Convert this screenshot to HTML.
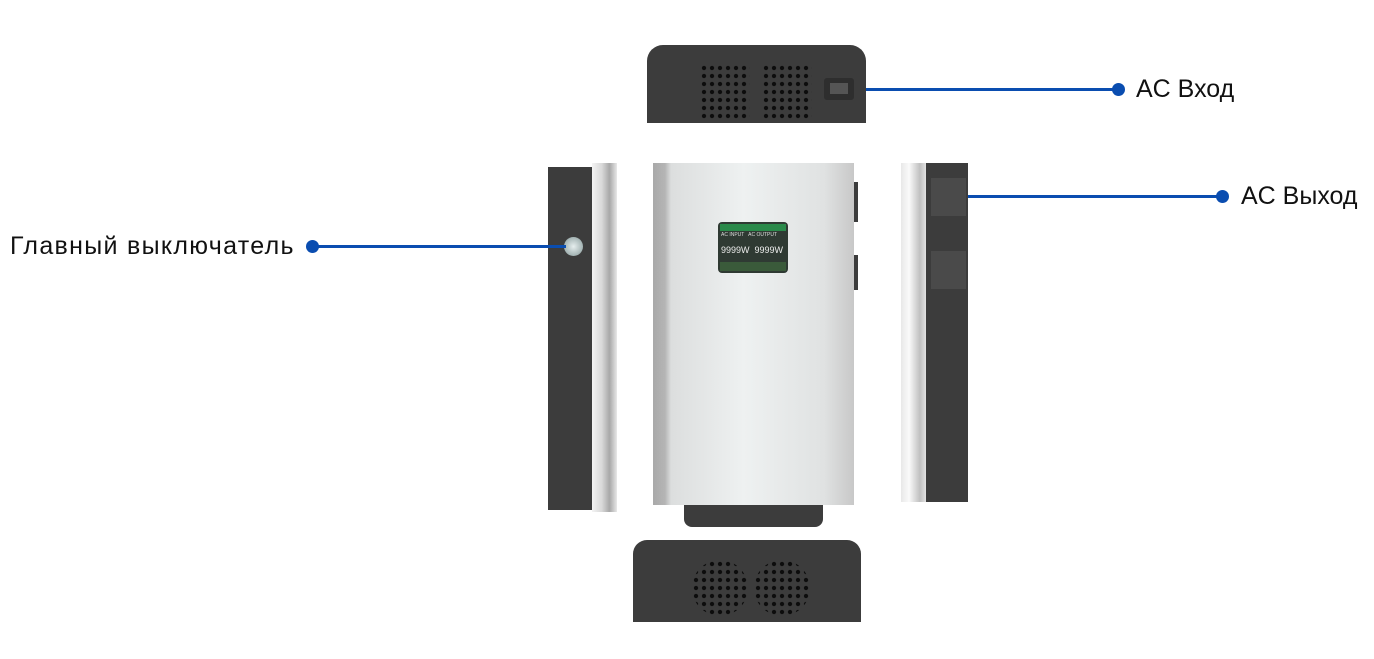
<!DOCTYPE html>
<html><head><meta charset="utf-8"><style>
body{margin:0;width:1374px;height:659px;background:#fff;position:relative;overflow:hidden;font-family:"Liberation Sans","DejaVu Sans",sans-serif}
.a{position:absolute}
.dark{background:#3c3c3c}
.line{position:absolute;height:3px;background:#0a4db0}
.dot{position:absolute;width:13px;height:13px;border-radius:50%;background:#0a4db0}
.t{position:absolute;font-size:25px;color:#111;white-space:nowrap}
.vent{position:absolute;background-image:radial-gradient(circle,#0c0c0c 1.8px,transparent 2.4px);background-size:8px 8px}
</style></head><body>
<!-- top unit -->
<div class="a dark" style="left:647px;top:45px;width:219px;height:78px;border-radius:16px 16px 0 0"></div>
<div class="vent" style="left:700px;top:64px;width:50px;height:56px"></div>
<div class="vent" style="left:762px;top:64px;width:50px;height:56px"></div>
<div class="a" style="left:824px;top:78px;width:30px;height:22px;background:#2e2e2e;border-radius:3px"></div>
<div class="a" style="left:830px;top:83px;width:18px;height:11px;background:#555"></div>
<div class="line" style="left:866px;top:88px;width:252px"></div>
<div class="dot" style="left:1112px;top:83px"></div>
<div class="t" style="left:1136px;top:75px">AC Вход</div>

<!-- left side -->
<div class="a dark" style="left:548px;top:167px;width:45px;height:343px"></div>
<div class="a" style="left:592px;top:163px;width:25px;height:349px;background:linear-gradient(90deg,#f4f4f4,#d8d8d8 40%,#a8a8a8 70%,#e8e8e8)"></div>
<div class="a" style="left:564px;top:237px;width:19px;height:19px;border-radius:50%;background:radial-gradient(circle,#e6eeee,#9aa 80%)"></div>
<div class="line" style="left:312px;top:245px;width:254px"></div>
<div class="dot" style="left:306px;top:240px"></div>
<div class="t" style="left:10px;top:232px;letter-spacing:1.3px">Главный выключатель</div>

<!-- main front -->
<div class="a" style="left:653px;top:163px;width:201px;height:342px;background:linear-gradient(90deg,#a9a9a9 0,#b5b5b5 6%,#dcdede 9%,#eef1f1 45%,#e0e2e2 85%,#c8c8c8 100%)"></div>
<div class="a dark" style="left:854px;top:182px;width:4px;height:40px"></div>
<div class="a dark" style="left:854px;top:255px;width:4px;height:35px"></div>
<div class="a" style="left:718px;top:222px;width:70px;height:51px;background:#2f3a33;border-radius:4px"></div>
<div class="a" style="left:720px;top:224px;width:66px;height:7px;background:#2a8a4a"></div>
<div class="a" style="left:721px;top:232px;font-size:5px;color:#ddd">AC INPUT &nbsp; AC OUTPUT</div>
<div class="a" style="left:721px;top:245px;font-size:9px;color:#eee">9999W&nbsp; 9999W</div>
<div class="a" style="left:720px;top:262px;width:66px;height:9px;background:#3a5a3a"></div>
<div class="a dark" style="left:684px;top:505px;width:139px;height:22px;border-radius:0 0 8px 8px"></div>

<!-- right side -->
<div class="a" style="left:901px;top:163px;width:27px;height:339px;background:linear-gradient(90deg,#e8e8e8,#fafafa 30%,#c0c0c0 70%,#eee)"></div>
<div class="a dark" style="left:926px;top:163px;width:42px;height:339px"></div>
<div class="a" style="left:931px;top:178px;width:35px;height:38px;background:#4a4a4a"></div>
<div class="a" style="left:931px;top:251px;width:35px;height:38px;background:#4a4a4a"></div>
<div class="line" style="left:968px;top:195px;width:254px"></div>
<div class="dot" style="left:1216px;top:190px"></div>
<div class="t" style="left:1241px;top:182px">AC Выход</div>

<!-- bottom unit -->
<div class="a dark" style="left:633px;top:540px;width:228px;height:82px;border-radius:14px 14px 0 0"></div>
<div class="a" style="left:692px;top:560px;width:56px;height:56px;border-radius:50%;background-image:radial-gradient(circle,#0c0c0c 1.8px,transparent 2.4px);background-size:8px 8px"></div>
<div class="a" style="left:754px;top:560px;width:56px;height:56px;border-radius:50%;background-image:radial-gradient(circle,#0c0c0c 1.8px,transparent 2.4px);background-size:8px 8px"></div>
</body></html>
